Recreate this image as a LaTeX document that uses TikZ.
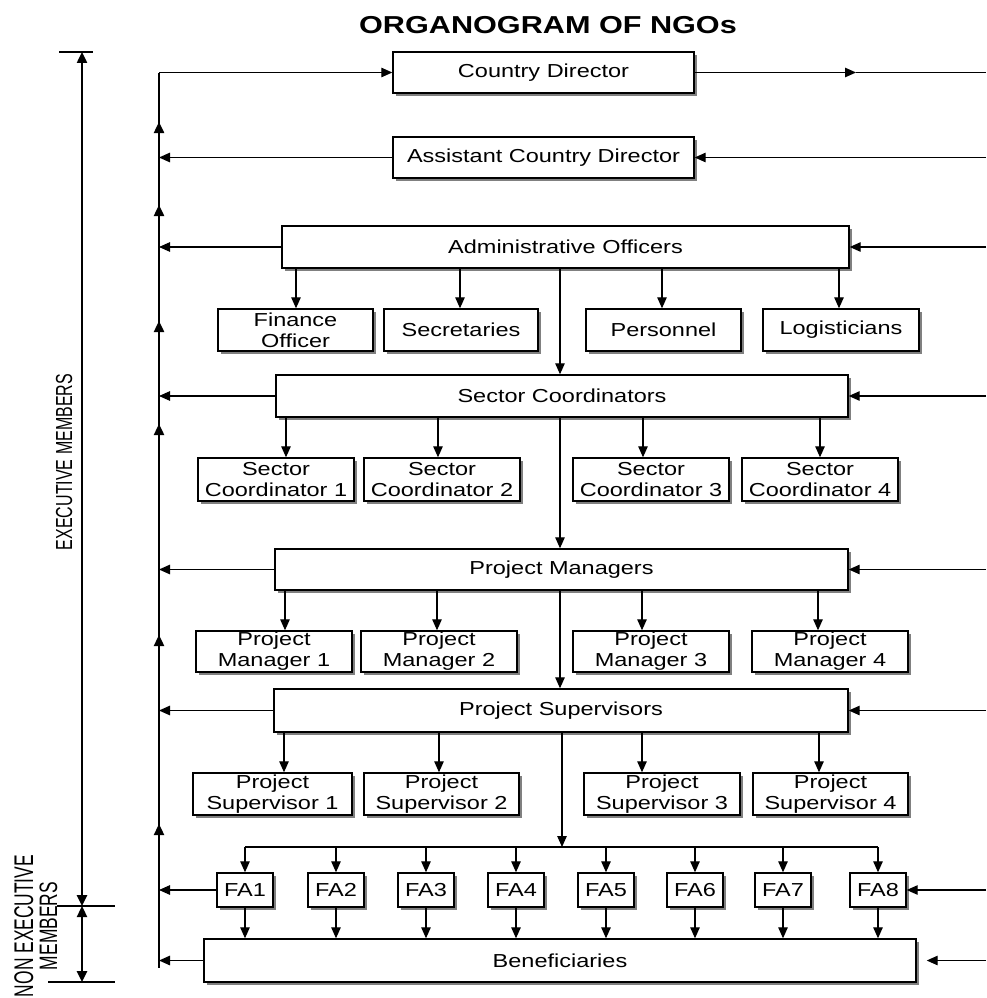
\documentclass[tikz,border=0pt]{standalone}
\usepackage{fontspec}
\setmainfont{Liberation Sans}[FakeStretch=1.25]
\newfontfamily\plainsans{Liberation Sans}
\usetikzlibrary{arrows.meta,shadows,calc}
\begin{document}
\begin{tikzpicture}[x=1pt,y=-1pt,
  box/.style={draw,line width=1.4pt,fill=white,inner sep=0pt,align=center,
    drop shadow={shadow xshift=3pt,shadow yshift=-3pt,fill=black!50,opacity=1},
    font=\fontsize{18.8}{21}\selectfont},
  ln/.style={line width=1.2pt},
  arr/.style={line width=1.2pt,-{Triangle[length=11pt,width=9.5pt]}},
  upar/.style={line width=2.4pt,-{Triangle[length=11pt,width=10pt]}},
  dim/.style={line width=2.4pt,{Triangle[length=11pt,width=10pt]}-{Triangle[length=11pt,width=10pt]}},
  tick/.style={line width=1.2pt},
  sidelbl/.style={rotate=90,anchor=base,inner sep=0pt}
]
\useasboundingbox (0,0) rectangle (986,998);

% title
\node[anchor=base,inner sep=0pt,font=\bfseries\fontsize{24.5}{28}\selectfont] (title) at (548,34) {ORGANOGRAM OF NGOs};

% main boxes
\node[box,minimum width=301pt,minimum height=41pt] (cd)    at (543.5,72.5) {Country Director};
\node[box,minimum width=301pt,minimum height=41pt] (acd)   at (543.5,157.5) {Assistant Country Director};
\node[box,minimum width=567pt,minimum height=42pt] (admin) at (565.5,247) {Administrative Officers};
\node[box,minimum width=155pt,minimum height=42pt] (fin)   at (295.5,330) {Finance\\Officer};
\node[box,minimum width=154pt,minimum height=42pt] (sec)   at (461,330) {Secretaries};
\node[box,minimum width=155pt,minimum height=42pt] (per)   at (663.5,330) {Personnel};
\node[box,minimum width=156pt,minimum height=42pt] (logi)  at (841,330) {Logisticians};

\node[box,minimum width=572pt,minimum height=42pt] (sc)  at (562,396) {Sector Coordinators};
\node[box,minimum width=156pt,minimum height=43pt] (sc1) at (276,479.5) {Sector\\Coordinator 1};
\node[box,minimum width=156pt,minimum height=43pt] (sc2) at (442,479.5) {Sector\\Coordinator 2};
\node[box,minimum width=156pt,minimum height=43pt] (sc3) at (651,479.5) {Sector\\Coordinator 3};
\node[box,minimum width=156pt,minimum height=43pt] (sc4) at (820,479.5) {Sector\\Coordinator 4};

\node[box,minimum width=573pt,minimum height=41pt] (pm)  at (561.5,569.5) {Project Managers};
\node[box,minimum width=156pt,minimum height=41pt] (pm1) at (274,651.5) {Project\\Manager 1};
\node[box,minimum width=156pt,minimum height=41pt] (pm2) at (439,651.5) {Project\\Manager 2};
\node[box,minimum width=156pt,minimum height=41pt] (pm3) at (651,651.5) {Project\\Manager 3};
\node[box,minimum width=156pt,minimum height=41pt] (pm4) at (830,651.5) {Project\\Manager 4};

\node[box,minimum width=574pt,minimum height=43pt] (ps)  at (561,710.5) {Project Supervisors};
\node[box,minimum width=159pt,minimum height=42pt] (ps1) at (272.5,794) {Project\\Supervisor 1};
\node[box,minimum width=155pt,minimum height=42pt] (ps2) at (441.5,794) {Project\\Supervisor 2};
\node[box,minimum width=156pt,minimum height=42pt] (ps3) at (662,794) {Project\\Supervisor 3};
\node[box,minimum width=155pt,minimum height=42pt] (ps4) at (830.5,794) {Project\\Supervisor 4};

\foreach \i/\x in {1/245,2/336,3/426,4/516,5/606,6/695,7/783,8/878}
  \node[box,minimum width=56pt,minimum height=34pt] (fa\i) at (\x,890) {FA\i};

\node[box,minimum width=712pt,minimum height=43pt] (ben) at (560,960.5) {Beneficiaries};

% coordinates
\coordinate (sptop) at (159,72.5);
\coordinate (spbot) at (159,968);
\coordinate (redge) at (986,0);
\coordinate (cdmid) at (856,72.5);
\coordinate (bus) at (562,847);

% left spine
\draw[ln] (sptop) -- (spbot);
\draw[arr] (sptop) -- (cd.west);
\foreach \a/\b in {170/122,270/205,363/321,447/424,672/635,895/824}
  \draw[upar] (sptop |- 0,\a) -- (sptop |- 0,\b);
\foreach \n in {acd,admin,sc,pm,ps,fa1,ben}
  \draw[arr] (\n.west) -- (\n.west -| sptop);

% right side
\draw[arr] (cd.east) -- (cdmid);
\draw[ln] (cdmid) -- (cd.east -| redge);
\foreach \n in {acd,admin,sc,pm,ps,fa8}
  \draw[arr] (\n.east -| redge) -- (\n.east);
\draw[arr,shorten >=10pt] (ben.east -| redge) -- (ben.east);

% admin children
\foreach \c/\x in {fin/296,sec/460,per/662,logi/839}
  \draw[arr] (admin.south -| \x,0) -- (\c.north -| \x,0);
\draw[arr] (admin.south -| 560,0) -- (sc.north -| 560,0);
% sector children
\foreach \c/\x in {sc1/286,sc2/438,sc3/643,sc4/820}
  \draw[arr] (sc.south -| \x,0) -- (\c.north -| \x,0);
\draw[arr] (sc.south -| 560,0) -- (pm.north -| 560,0);
% pm children
\foreach \c/\x in {pm1/285,pm2/437,pm3/642,pm4/818}
  \draw[arr] (pm.south -| \x,0) -- (\c.north -| \x,0);
\draw[arr] (pm.south -| 560,0) -- (ps.north -| 560,0);
% ps children
\foreach \c/\x in {ps1/284,ps2/439,ps3/642,ps4/819}
  \draw[arr] (ps.south -| \x,0) -- (\c.north -| \x,0);
\draw[arr] (ps.south -| bus) -- (bus);
% FA bus
\draw[ln] (fa1.north |- bus) -- (fa8.north |- bus);
\foreach \i in {1,...,8}{
  \draw[arr] (fa\i.north |- bus) -- (fa\i.north);
  \draw[arr] (fa\i.south) -- (fa\i.south |- ben.north);
}

% dimension scale
\coordinate (e1) at (82,52);
\coordinate (e2) at (82,906);
\coordinate (e3) at (82,982);
\draw[tick] (59,52) -- (93,52);
\draw[tick] (57,906) -- (115,906);
\draw[tick] (48,982) -- (115,982);
\draw[dim] (e1) -- (e2);
\draw[dim] (e2) -- (e3);

% side labels
\node[sidelbl,font=\plainsans\fontsize{16}{19}\selectfont] (exec) at (72,462) {\scalebox{1}[1.45]{EXECUTIVE MEMBERS}};
\node[sidelbl,font=\plainsans\fontsize{17.4}{20}\selectfont] (nonexec1) at (33,926) {\scalebox{1}[1.55]{NON EXECUTIVE}};
\node[sidelbl,font=\plainsans\fontsize{17.4}{20}\selectfont] (nonexec2) at (57,926) {\scalebox{1}[1.45]{MEMBERS}};
\end{tikzpicture}
\end{document}
